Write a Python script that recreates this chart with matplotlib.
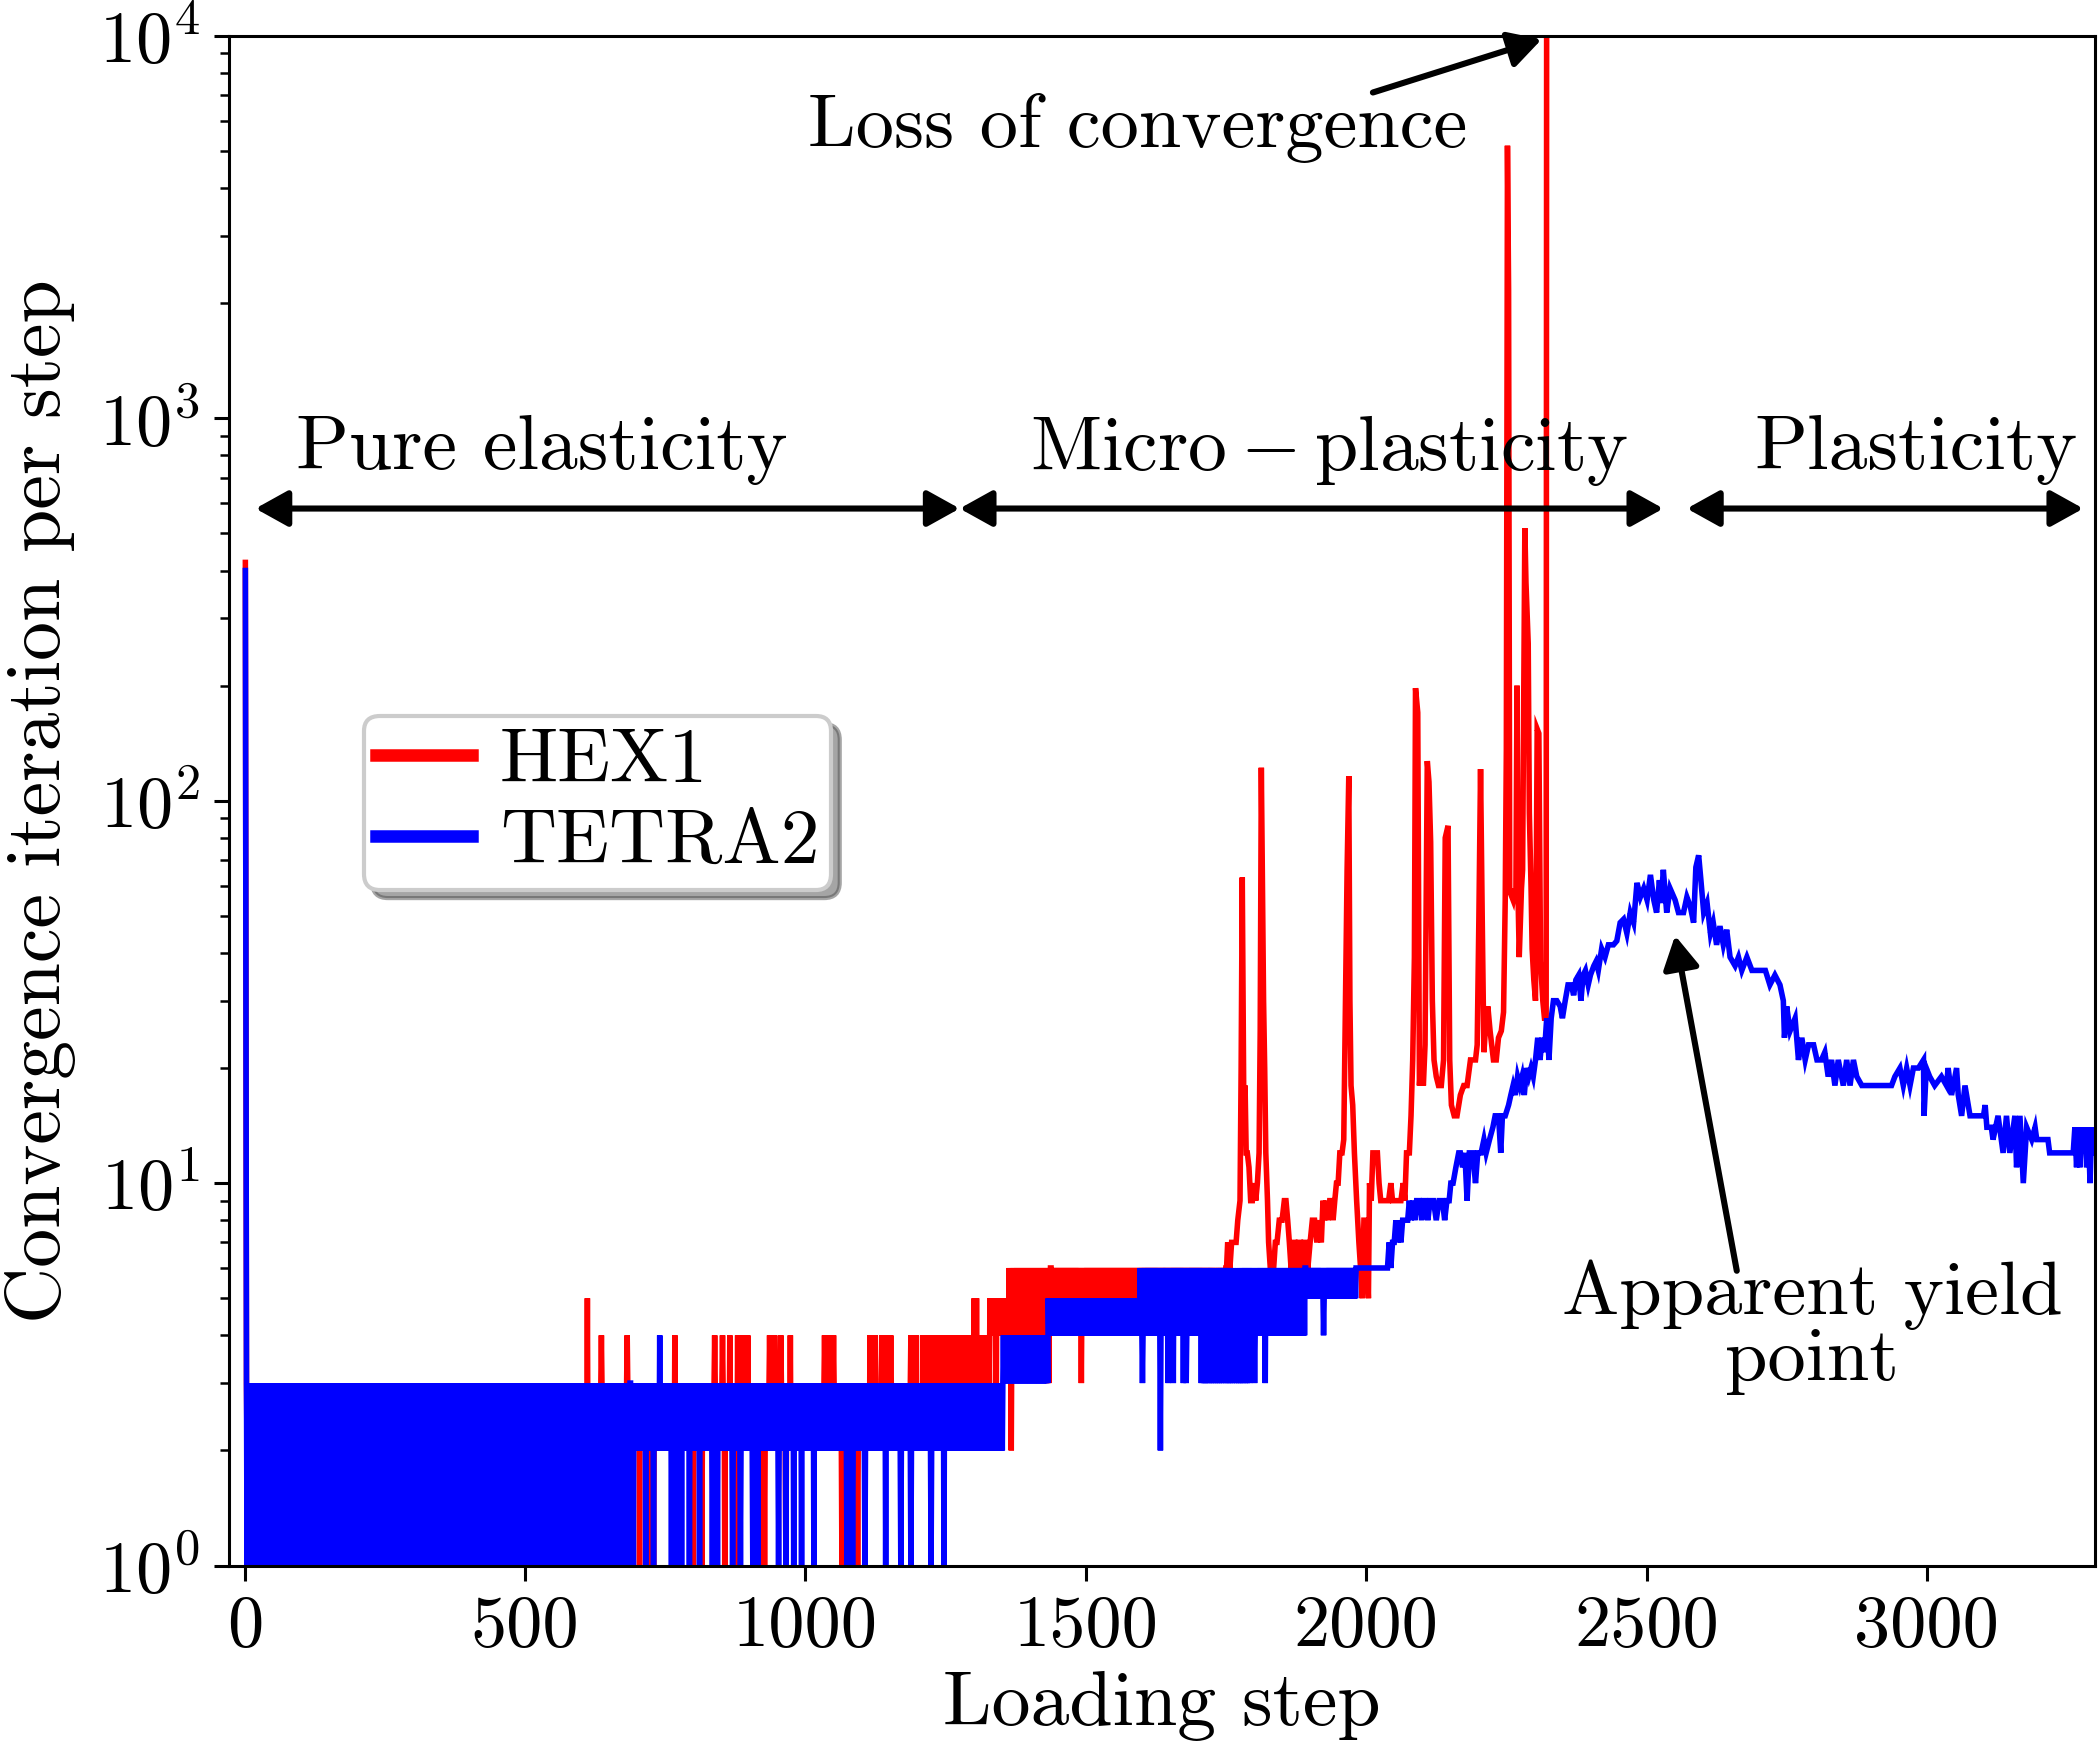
import matplotlib
matplotlib.use("Agg")
import matplotlib.pyplot as plt

plt.rcParams.update({
    "font.family": "serif",
    "font.serif": ["cmr10"],
    "mathtext.fontset": "cm",
    "axes.formatter.use_mathtext": True,
    "axes.unicode_minus": False,
})

# ---------------- data ----------------
# initial spike (step, iterations)
hex_start = (1, 420)
tetra_start = (1, 400)

# low-iteration regions: (first step, end step, high level, low level);
# the solver count switches between the two levels from step to step
hex_bands = [
    (3, 1247, 3, 2),
    (1247, 1329, 4, 3),
    (1329, 1363, 5, 4),
    (1363, 1438, 6, 4),
    (1438, 1751, 6, 5),
]
# isolated steps that leave the band (step, iterations)
hex_isolated = [
    (20, 1), (45, 1), (58, 1), (70, 1),
    (611, 5), (636, 4), (682, 4), (690, 1), (704, 1), (716, 1), (724, 1), (729, 1),
    (763, 1), (767, 4), (797, 1), (800, 1), (812, 1), (815, 1), (838, 4), (852, 4),
    (856, 1), (865, 4), (876, 1), (879, 4), (888, 4), (897, 4), (922, 1), (927, 1),
    (936, 4), (945, 4), (956, 4), (965, 1), (973, 4), (1034, 4), (1043, 4), (1050, 4),
    (1065, 1), (1074, 1), (1093, 1), (1115, 4), (1124, 4), (1136, 4), (1145, 4),
    (1152, 4), (1188, 4), (1192, 4), (1197, 4), (1209, 4), (1213, 4), (1217, 4),
    (1221, 4), (1225, 4), (1229, 4), (1234, 4), (1238, 4), (1242, 4),
    (1301, 5), (1305, 5), (1333, 5), (1340, 2), (1367, 2),
    (1430, 3), (1434, 3), (1492, 3),
]
# HEX1 upper part, step by step readings
hex_steps = [1751, 1753, 1757, 1760, 1765, 1768, 1771, 1775, 1777, 1779, 1782, 1784,
             1786, 1788, 1791, 1794, 1797, 1800, 1803, 1806, 1809, 1811, 1813, 1815,
             1817, 1819, 1821, 1824, 1826, 1829, 1832, 1835, 1838, 1841, 1845, 1850,
             1854, 1857, 1860, 1863, 1866, 1869, 1873, 1876, 1879, 1883, 1886, 1889,
             1893, 1896, 1900, 1904, 1908, 1912, 1916, 1920, 1923, 1926, 1929, 1932,
             1935, 1938, 1941, 1944, 1947, 1950, 1953, 1957, 1960, 1963, 1966, 1969,
             1971, 1973, 1976, 1979, 1983, 1987, 1990, 1993, 1996, 1999, 2002, 2004,
             2006, 2009, 2012, 2016, 2020, 2023, 2026, 2032, 2040, 2044, 2047, 2055,
             2062, 2066, 2069, 2072, 2077, 2080, 2083, 2086, 2088, 2092, 2095, 2098,
             2102, 2105, 2109, 2112, 2115, 2118, 2121, 2125, 2129, 2134, 2138, 2141,
             2146, 2149, 2152, 2157, 2162, 2168, 2174, 2180, 2186, 2195, 2198, 2201,
             2204, 2207, 2210, 2214, 2217, 2221, 2227, 2232, 2236, 2241, 2245, 2248,
             2250, 2252, 2254, 2256, 2258, 2262, 2265, 2267, 2269, 2271, 2273, 2277,
             2279, 2283, 2285, 2289, 2291, 2294, 2296, 2299, 2302, 2305, 2308, 2311,
             2315, 2318, 2321, 2322]
hex_values = [6, 7, 6, 7, 7, 7, 8, 9, 20, 63, 14, 18,
              12, 12, 11, 9, 9, 10, 9, 10, 12, 25, 122, 60,
              30, 20, 12, 9, 7, 6, 6, 6, 7, 7, 8, 8,
              9, 9, 8, 7, 6, 7, 7, 6, 7, 7, 6, 7,
              7, 6, 7, 8, 8, 7, 8, 7, 9, 8, 9, 8,
              9, 9, 8, 9, 10, 10, 12, 12, 13, 30, 66, 116,
              30, 18, 16, 12, 9, 7, 6, 5, 8, 8, 6, 5,
              10, 9, 12, 12, 12, 10, 9, 9, 9, 10, 9, 9,
              9, 10, 9, 12, 12, 15, 21, 39, 197, 170, 18, 21,
              18, 23, 127, 112, 78, 30, 21, 19, 18, 18, 21, 80,
              86, 21, 16, 15, 15, 17, 18, 18, 21, 21, 23, 49,
              121, 49, 22, 27, 29, 25, 21, 21, 24, 25, 28, 55,
              136, 5165, 2163, 58, 57, 55, 59, 55, 200, 55, 39, 59,
              66, 516, 372, 258, 93, 60, 41, 34, 30, 154, 150, 38,
              30, 27, 27, 30000]

tetra_bands = [
    (3, 688, 3, 1),
    (688, 1353, 3, 2),
    (1353, 1433, 4, 3),
    (1433, 1597, 5, 4),
    (1597, 1892, 6, 4),
    (1892, 1983, 6, 5),
    (1983, 2038, 6, 6),
]
tetra_isolated = [
    (693, 1), (715, 1), (729, 1), (740, 4), (761, 1), (770, 1), (779, 1), (793, 1),
    (811, 1), (834, 1), (843, 1), (870, 1), (884, 1), (906, 1), (915, 1), (952, 1),
    (965, 1), (979, 1), (993, 1), (1015, 1), (1074, 1), (1084, 1), (1106, 1),
    (1143, 1), (1170, 1), (1188, 1), (1224, 1), (1247, 1),
    (1601, 3), (1633, 2), (1647, 3), (1656, 3), (1674, 3), (1679, 3),
    (1706, 3), (1710, 3), (1713, 3), (1716, 3), (1720, 3), (1724, 3), (1727, 3),
    (1731, 3), (1735, 3), (1738, 3), (1742, 3), (1746, 3), (1750, 3), (1754, 3),
    (1757, 3), (1761, 3), (1765, 3), (1769, 3), (1773, 3), (1776, 3), (1780, 3),
    (1784, 3), (1788, 3), (1792, 3), (1801, 3), (1820, 3), (1924, 4),
]
tetra_steps = [2038, 2041, 2044, 2047, 2050, 2053, 2056, 2059, 2062, 2065, 2070, 2074,
               2077, 2080, 2083, 2087, 2090, 2095, 2099, 2102, 2106, 2110, 2114, 2120,
               2125, 2130, 2136, 2140, 2144, 2148, 2151, 2155, 2160, 2165, 2168, 2172,
               2176, 2180, 2184, 2190, 2195, 2199, 2205, 2210, 2214, 2220, 2226, 2230,
               2236, 2240, 2243, 2248, 2254, 2258, 2262, 2266, 2270, 2274, 2278, 2282,
               2286, 2290, 2294, 2298, 2302, 2306, 2310, 2314, 2318, 2322, 2326, 2330,
               2334, 2340, 2346, 2350, 2355, 2360, 2366, 2370, 2374, 2379, 2383, 2387,
               2391, 2396, 2400, 2406, 2410, 2414, 2420, 2426, 2432, 2441, 2447, 2453,
               2459, 2465, 2471, 2477, 2483, 2489, 2495, 2501, 2507, 2513, 2518, 2523,
               2526, 2530, 2536, 2542, 2551, 2557, 2566, 2572, 2578, 2584, 2588, 2593,
               2597, 2602, 2608, 2614, 2619, 2625, 2631, 2637, 2643, 2649, 2658, 2664,
               2670, 2679, 2688, 2700, 2712, 2720, 2729, 2738, 2744, 2746, 2750, 2756,
               2765, 2771, 2777, 2783, 2789, 2798, 2804, 2812, 2818, 2824, 2830, 2836,
               2842, 2851, 2857, 2863, 2869, 2875, 2884, 2937, 2943, 2952, 2958, 2964,
               2970, 2976, 2985, 2994, 2995, 2999, 3005, 3014, 3026, 3035, 3038, 3044,
               3053, 3056, 3062, 3068, 3077, 3086, 3101, 3104, 3107, 3115, 3118, 3127,
               3136, 3142, 3148, 3157, 3160, 3166, 3172, 3178, 3187, 3193, 3196, 3216,
               3219, 3261, 3264, 3267, 3270, 3273, 3276, 3279, 3282, 3285, 3288, 3291,
               3294, 3297]
tetra_values = [6, 7, 6, 7, 7, 8, 7, 8, 7, 8, 8, 8,
                9, 8, 9, 8, 9, 9, 8, 9, 9, 8, 9, 9,
                8, 9, 9, 8, 9, 9, 10, 10, 11, 12, 12, 11,
                12, 9, 12, 12, 10, 12, 12, 13, 12, 13, 14, 15,
                15, 12, 15, 15, 16, 17, 18, 17, 19, 18, 19, 17,
                20, 19, 20, 19, 21, 24, 21, 24, 22, 27, 21, 27,
                30, 30, 29, 27, 30, 33, 33, 31, 34, 35, 30, 35,
                36, 33, 35, 37, 38, 36, 41, 39, 42, 42, 43, 48,
                49, 45, 51, 48, 61, 56, 59, 55, 64, 55, 51, 62,
                54, 66, 51, 59, 55, 51, 51, 56, 53, 48, 67, 72,
                62, 51, 54, 45, 48, 42, 47, 42, 46, 39, 37, 39,
                36, 39, 36, 36, 36, 33, 35, 33, 30, 24, 29, 25,
                27, 21, 24, 21, 23, 23, 21, 21, 22, 19, 21, 18,
                21, 18, 21, 18, 21, 19, 18, 18, 19, 20, 18, 20,
                18, 20, 20, 21, 15, 20, 19, 18, 19, 18, 20, 17,
                20, 17, 15, 18, 15, 15, 15, 16, 14, 14, 13, 15,
                12, 15, 12, 15, 11, 15, 10, 14, 13, 14, 13, 13,
                12, 12, 14, 11, 14, 11, 14, 12, 14, 11, 14, 10,
                14, 12]

x_ticks = [0, 500, 1000, 1500, 2000, 2500, 3000]
labels = ["HEX1", "TETRA2"]
colors = ["#ff0000", "#0000ff"]


def build(start, bands, isolated, steps, values):
    vals = {}
    for s, e, hi, lo in bands:
        for k in range(s, e):
            vals[k] = hi if (k - s) % 2 == 0 else lo
    for k, v in isolated:
        vals[k] = v
    xs = [start[0]] + sorted(vals) + list(steps)
    ys = [start[1]] + [vals[k] for k in sorted(vals)] + list(values)
    return xs, ys


hx, hy = build(hex_start, hex_bands, hex_isolated, hex_steps, hex_values)
tx, ty = build(tetra_start, tetra_bands, tetra_isolated, tetra_steps, tetra_values)

# ---------------- figure ----------------
fig = plt.figure(figsize=(10.49, 8.815), dpi=200)
ax = fig.add_axes([0.1092, 0.112, 0.8894, 0.8676])

ax.plot(hx, hy, color=colors[0], lw=2.0, label=labels[0], solid_joinstyle="miter")
ax.plot(tx, ty, color=colors[1], lw=2.0, label=labels[1], solid_joinstyle="miter")

ax.set_yscale("log")
ax.set_ylim(1, 1e4)
ax.set_xlim(-28, 3300)
ax.set_xticks(x_ticks)
ax.set_xticklabels([str(t) for t in x_ticks])

for sp in ax.spines.values():
    sp.set_linewidth(1.1)
ax.tick_params(axis="both", which="major", labelsize=26, length=5.5, width=1.1, pad=5)
ax.tick_params(axis="y", which="minor", length=3.2, width=0.9)

ax.set_xlabel("Loading step", fontsize=28, labelpad=4)
ax.set_ylabel("Convergence iteration per step", fontsize=28, labelpad=8)

# annotations
arrow_kw = dict(color="k", lw=2.2, shrinkA=0, shrinkB=0)
ax.annotate("", xy=(19, 581), xytext=(1275, 581),
            arrowprops=dict(arrowstyle="<|-|>,head_length=0.45,head_width=0.25",
                            mutation_scale=22, **arrow_kw))
ax.annotate("", xy=(1275, 581), xytext=(2530, 581),
            arrowprops=dict(arrowstyle="<|-|>,head_length=0.45,head_width=0.25",
                            mutation_scale=22, **arrow_kw))
ax.annotate("", xy=(2572, 581), xytext=(3279, 581),
            arrowprops=dict(arrowstyle="<|-|>,head_length=0.45,head_width=0.25",
                            mutation_scale=22, **arrow_kw))
ax.text(530, 826, "Pure elasticity", fontsize=28, ha="center", va="center")
ax.text(1933, 826, r"$\mathrm{Micro-plasticity}$", fontsize=28, ha="center", va="center")
ax.text(2981, 826, "Plasticity", fontsize=28, ha="center", va="center")

ax.annotate("", xy=(2313, 9800), xytext=(2012, 7115),
            arrowprops=dict(arrowstyle="-|>,head_length=0.45,head_width=0.25",
                            mutation_scale=22, **arrow_kw))
ax.text(1592, 5750, "Loss of convergence", fontsize=27.5, ha="center", va="center")

ax.annotate("", xy=(2551, 44.4), xytext=(2661, 5.9),
            arrowprops=dict(arrowstyle="-|>,head_length=0.45,head_width=0.25",
                            mutation_scale=22, **arrow_kw))
ax.text(2795, 4.2, "Apparent yield\npoint", fontsize=27.5, ha="center", va="center",
        multialignment="center", linespacing=0.95)

leg = ax.legend(loc="upper left", bbox_to_anchor=(0.0723, 0.5555), fontsize=28,
                fancybox=True, shadow={"ox": 3, "oy": -3}, framealpha=1,
                handlelength=1.24, borderpad=0.15, labelspacing=0.15,
                handletextpad=0.36, borderaxespad=0)
for ln in leg.get_lines():
    ln.set_linewidth(4.5)
leg.get_frame().set_edgecolor("0.8")
leg.get_frame().set_linewidth(1.5)

fig.savefig("out.png", dpi=200)
